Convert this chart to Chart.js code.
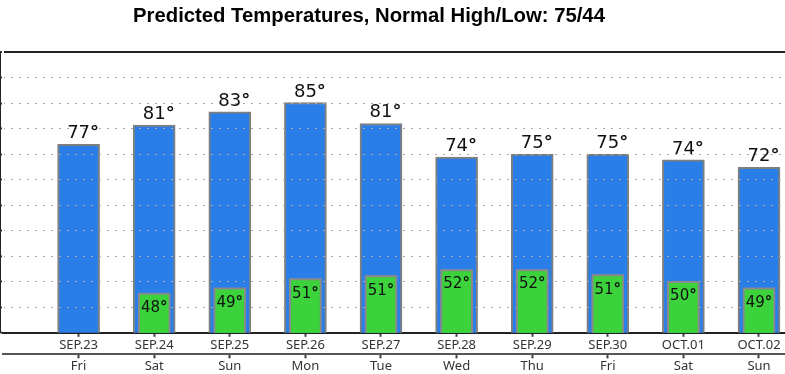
<!DOCTYPE html>
<html>
<head>
<meta charset="utf-8">
<script src="https://cdn.jsdelivr.net/npm/chart.js@4/dist/chart.umd.min.js"></script>
<style>
    html, body { margin: 0; padding: 0; background: #fff; overflow: hidden; }
    #wrap { position: relative; width: 785px; height: 374px; }
    #title {
        position: absolute; top: 5px; left: 0; width: 738px;
        text-align: center; font: bold 20.3px "Liberation Sans", Arial, sans-serif;
        line-height: 20px; color: #000;
    }
    canvas { position: absolute; left: 0; top: 0; }
</style>
</head>
<body>
<div id="wrap">
    <canvas id="temp-graph" width="785" height="374"></canvas>
    <div id="title">Predicted Temperatures, Normal High/Low: 75/44</div>
</div>
<script>
const dates = ['SEP.23', 'SEP.24', 'SEP.25', 'SEP.26', 'SEP.27', 'SEP.28', 'SEP.29', 'SEP.30', 'OCT.01', 'OCT.02'];
const days = ['Fri', 'Sat', 'Sun', 'Mon', 'Tue', 'Wed', 'Thu', 'Fri', 'Sat', 'Sun'];
const highs = [76.9, 80.7, 83.3, 85.1, 81.0, 74.4, 75.0, 75.0, 73.9, 72.4];
const lows = [null, 47.8, 48.8, 50.6, 51.2, 52.4, 52.4, 51.4, 50.1, 48.8];
const yTicks = [40, 45, 50, 55, 60, 65, 70, 75, 80, 85, 90, 95];

const tempChart = document.getElementById("temp-graph");

const toPoints = (values) => values.map((v, i) => ({ x: i, y: v }));

// degree sign comes out heavy in the original, so it gets a bold font
const drawTemp = (ctx, num, x, y, size, centerAll) => {
    ctx.font = size + 'px "DejaVu Sans"';
    const w = ctx.measureText(num).width;
    ctx.font = 'bold ' + size + 'px "DejaVu Sans"';
    const dw = ctx.measureText('°').width;
    const left = centerAll ? x - (w + dw) / 2 : x - w / 2;
    ctx.font = size + 'px "DejaVu Sans"';
    ctx.fillText(num, left, y);
    ctx.font = 'bold ' + size + 'px "DejaVu Sans"';
    ctx.fillText('°', left + w, y);
};

// grid goes over the blue bars, so the green ones and the labels are put back on top
const labelPlugin = {
    id: 'tempLabels',
    afterDraw(chart) {
        const ctx = chart.ctx;
        const area = chart.chartArea;

        ctx.save();
        ctx.beginPath();
        ctx.rect(area.left, area.top, area.right - area.left, area.bottom - area.top);
        ctx.clip();
        chart.getDatasetMeta(1).data.forEach((bar, i) => {
            if (lows[i] !== null) bar.draw(ctx);
        });
        ctx.restore();

        ctx.save();
        ctx.fillStyle = '#111';
        ctx.textBaseline = 'alphabetic';
        ctx.textAlign = 'left';
        chart.getDatasetMeta(0).data.forEach((bar, i) => {
            drawTemp(ctx, String(Math.round(highs[i])), bar.x, bar.y - 6, 18, false);
        });
        chart.getDatasetMeta(1).data.forEach((bar, i) => {
            if (lows[i] === null) return;
            drawTemp(ctx, String(Math.round(lows[i])), bar.x, bar.y + 19, 15, true);
        });
        ctx.restore();
    }
};

const xAxis = (names, weight, padding) => ({
    type: 'linear',
    position: 'bottom',
    weight: weight,
    offset: false,
    min: -1,
    max: 9.344,
    afterBuildTicks: (axis) => {
        axis.ticks = names.map((n, i) => ({ value: i }));
    },
    ticks: {
        autoSkip: false,
        maxRotation: 0,
        padding: padding,
        color: '#333',
        font: { family: '"Noto Sans"', size: 13 },
        callback: (value) => names[value],
    },
    grid: {
        offset: false,
        drawOnChartArea: false,
        drawTicks: true,
        tickLength: 4,
        tickColor: '#444',
        tickWidth: 2,
    },
    border: { display: true, color: weight === 0 ? '#222' : '#555', width: 2 },
});

let tempGraph = new Chart(tempChart, {
    type: 'bar',
    data: {
        datasets: [{
            label: 'High',
            data: toPoints(highs),
            backgroundColor: '#2a7ee8',
            borderColor: '#7f7f7f',
            borderWidth: 2,
            barThickness: 42,
            grouped: false,
            order: 2,
        }, {
            label: 'Low',
            data: toPoints(lows),
            backgroundColor: '#3bd23b',
            borderColor: '#8a8a8a',
            borderWidth: 2,
            barThickness: 32,
            grouped: false,
            order: 1,
        }]
    },
    options: {
        responsive: false,
        animation: false,
        events: [],
        layout: { padding: { top: 52, left: 0, right: 0, bottom: 0 } },
        plugins: {
            legend: { display: false },
            tooltip: { enabled: false },
        },
        scales: {
            x: xAxis(dates, 0, 1),
            x2: xAxis(days, 1, 0),
            y: {
                min: 40,
                max: 95,
                afterBuildTicks: (axis) => {
                    axis.ticks = yTicks.map((v) => ({ value: v }));
                },
                ticks: { display: false },
                grid: {
                    z: 1,
                    drawTicks: true,
                    tickLength: 3,
                    tickColor: '#333',
                    tickWidth: 2,
                    color: (c) => {
                        if (!c.tick) return '#aaa';
                        if (c.tick.value === 95) return '#222';
                        if (c.tick.value === 40) return 'rgba(0,0,0,0)';
                        return '#aaa';
                    },
                    lineWidth: (c) => (c.tick && c.tick.value === 95 ? 2 : 1),
                },
                border: {
                    display: true,
                    color: '#222',
                    width: 2,
                    dash: (c) => (c.tick && c.tick.value === 95 ? [] : [2, 6]),
                    dashOffset: 1,
                },
            },
        },
    },
    plugins: [labelPlugin],
});
</script>
</body>
</html>
